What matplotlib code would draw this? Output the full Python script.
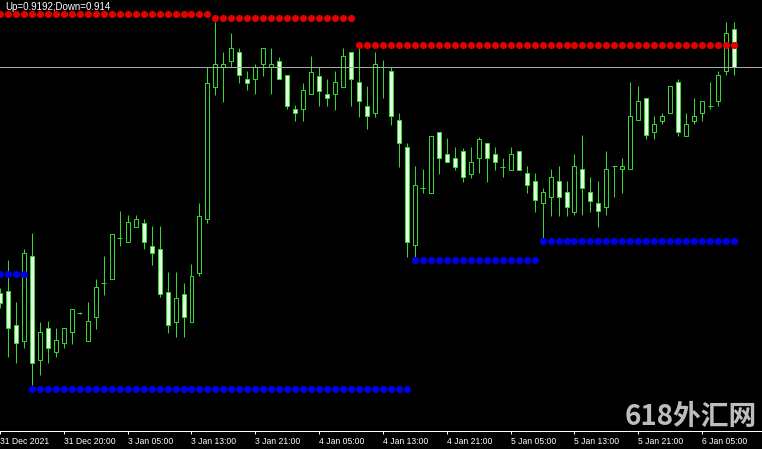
import matplotlib
matplotlib.use("Agg")
import matplotlib.pyplot as plt
from matplotlib.patches import Rectangle
import numpy as np

# ---- data (USDCHF H1, bar index -1 .. 91) ----
opens = [0.91262, 0.91267, 0.91177, 0.91134, 0.91360, 0.91084, 0.91169, 0.91105, 0.91129, 0.91158,
         0.91209, 0.91134, 0.91198, 0.91288, 0.91299, 0.91407, 0.91397, 0.91436, 0.91447, 0.91386,
         0.91378, 0.91264, 0.91185, 0.91259, 0.91185, 0.91315, 0.91458, 0.91807, 0.91860, 0.91876,
         0.91900, 0.91829, 0.91829, 0.91868, 0.91860, 0.91876, 0.91839, 0.91749, 0.91749, 0.91789,
         0.91837, 0.91789, 0.91789, 0.91807, 0.91900, 0.91821, 0.91757, 0.91739, 0.91860, 0.91850,
         0.91720, 0.91648, 0.91389, 0.91540, 0.91527, 0.91688, 0.91630, 0.91619, 0.91638, 0.91577,
         0.91619, 0.91659, 0.91630, 0.91595, 0.91588, 0.91638, 0.91580, 0.91558, 0.91500, 0.91516,
         0.91558, 0.91529, 0.91476, 0.91590, 0.91529, 0.91500, 0.91489, 0.91598, 0.91590, 0.91590,
         0.91720, 0.91778, 0.91688, 0.91717, 0.91739, 0.91821, 0.91678, 0.91717, 0.91739, 0.91757,
         0.91770, 0.91850, 0.91961]
highs = [0.91275, 0.91349, 0.91238, 0.91378, 0.91421, 0.91185, 0.91187, 0.91169, 0.91169, 0.91219,
         0.91211, 0.91238, 0.91299, 0.91360, 0.91418, 0.91479, 0.91468, 0.91468, 0.91458, 0.91439,
         0.91439, 0.91317, 0.91317, 0.91288, 0.91338, 0.91500, 0.91860, 0.91980, 0.91900, 0.91950,
         0.91911, 0.91850, 0.91868, 0.91911, 0.91911, 0.91887, 0.91839, 0.91760, 0.91818, 0.91890,
         0.91860, 0.91829, 0.91850, 0.91911, 0.91900, 0.91911, 0.91810, 0.91900, 0.91879, 0.91860,
         0.91739, 0.91659, 0.91598, 0.91590, 0.91678, 0.91688, 0.91672, 0.91648, 0.91646, 0.91648,
         0.91675, 0.91659, 0.91648, 0.91619, 0.91648, 0.91638, 0.91598, 0.91580, 0.91540, 0.91590,
         0.91598, 0.91558, 0.91630, 0.91680, 0.91569, 0.91558, 0.91638, 0.91598, 0.91619, 0.91821,
         0.91810, 0.91778, 0.91731, 0.91739, 0.91810, 0.91829, 0.91739, 0.91778, 0.91770, 0.91821,
         0.91850, 0.91980, 0.91980]
lows = [0.91222, 0.91092, 0.91076, 0.91116, 0.91018, 0.91044, 0.91076, 0.91092, 0.91116, 0.91126,
        0.91206, 0.91134, 0.91166, 0.91256, 0.91299, 0.91386, 0.91397, 0.91436, 0.91378, 0.91336,
        0.91251, 0.91156, 0.91145, 0.91145, 0.91185, 0.91307, 0.91447, 0.91786, 0.91768, 0.91860,
        0.91818, 0.91800, 0.91789, 0.91837, 0.91789, 0.91829, 0.91749, 0.91717, 0.91717, 0.91789,
        0.91757, 0.91757, 0.91747, 0.91807, 0.91757, 0.91728, 0.91696, 0.91728, 0.91778, 0.91707,
        0.91595, 0.91357, 0.91357, 0.91527, 0.91527, 0.91577, 0.91609, 0.91588, 0.91556, 0.91566,
        0.91580, 0.91556, 0.91588, 0.91569, 0.91588, 0.91588, 0.91527, 0.91476, 0.91407, 0.91466,
        0.91466, 0.91466, 0.91468, 0.91468, 0.91476, 0.91436, 0.91468, 0.91516, 0.91527, 0.91590,
        0.91720, 0.91670, 0.91670, 0.91709, 0.91739, 0.91678, 0.91678, 0.91709, 0.91717, 0.91749,
        0.91757, 0.91839, 0.91839]
closes = [0.91235, 0.91169, 0.91129, 0.91368, 0.91076, 0.91158, 0.91116, 0.91137, 0.91169, 0.91219,
          0.91209, 0.91187, 0.91277, 0.91288, 0.91418, 0.91407, 0.91450, 0.91458, 0.91397, 0.91368,
          0.91259, 0.91177, 0.91248, 0.91198, 0.91307, 0.91466, 0.91818, 0.91868, 0.91868, 0.91911,
          0.91839, 0.91818, 0.91860, 0.91911, 0.91868, 0.91829, 0.91757, 0.91739, 0.91800, 0.91847,
          0.91797, 0.91778, 0.91821, 0.91890, 0.91829, 0.91770, 0.91731, 0.91868, 0.91860, 0.91731,
          0.91659, 0.91397, 0.91548, 0.91540, 0.91678, 0.91619, 0.91609, 0.91595, 0.91569, 0.91609,
          0.91670, 0.91619, 0.91609, 0.91595, 0.91630, 0.91588, 0.91548, 0.91508, 0.91529, 0.91569,
          0.91516, 0.91489, 0.91598, 0.91540, 0.91505, 0.91479, 0.91590, 0.91598, 0.91598, 0.91731,
          0.91770, 0.91680, 0.91709, 0.91731, 0.91810, 0.91688, 0.91709, 0.91731, 0.91770, 0.91757,
          0.91839, 0.91950, 0.91860]
first_bar = -1

# resistance (red) and support (blue) dotted levels: start bar, end bar, price
red_start = [-1, 26, 44]
red_end = [25, 43, 91]
red_level = [0.92001, 0.91991, 0.91920]
blue_start = [-1, 3, 51, 67]
blue_end = [2, 50, 66, 91]
blue_level = [0.91313, 0.91007, 0.91349, 0.91399]

bid_price = 0.91860
info_text = "Up=0.9192;Down=0.914"

tick_bars = [-1, 7, 15, 23, 31, 39, 47, 55, 63, 71, 79, 87]
tick_labels = ["31 Dec 2021", "31 Dec 20:00", "3 Jan 05:00", "3 Jan 13:00", "3 Jan 21:00",
               "4 Jan 05:00", "4 Jan 13:00", "4 Jan 21:00", "5 Jan 05:00", "5 Jan 13:00",
               "5 Jan 21:00", "6 Jan 05:00"]
watermark = "618外汇网"

# ---- figure ----
W, H = 762, 449
fig = plt.figure(figsize=(W / 100, H / 100), dpi=100, facecolor="black")
ax = fig.add_axes([0, 18 / H, 1, 431 / H], facecolor="black")

px = 0.72  # one pixel in points
green = "#33d633"
bear_fill = "#e6ffe0"

n = len(opens)
xs = np.arange(first_bar, first_bar + n)
o = np.array(opens); h = np.array(highs); l = np.array(lows); c = np.array(closes)

ax.vlines(xs, l, h, color=green, linewidth=px, zorder=2)
bw = 0.5
for x, oo, cc in zip(xs, o, c):
    bear = cc < oo
    lo_, hi_ = min(oo, cc), max(oo, cc)
    if hi_ - lo_ < 1e-9:
        ax.hlines(oo, x - bw / 2 - 0.06, x + bw / 2 + 0.06, color=green, linewidth=px, zorder=3)
    else:
        ax.add_patch(Rectangle((x - bw / 2, lo_), bw, hi_ - lo_,
                               facecolor=bear_fill if bear else "black",
                               edgecolor=green, linewidth=px, zorder=3))

ax.axhline(bid_price, color="#a9a9a9", linewidth=px, zorder=4)

for s, e, lv in zip(red_start, red_end, red_level):
    bars = np.arange(s, e + 1)
    ax.plot(bars, np.full(len(bars), lv), "o", color="#e00000", markersize=5.2,
            markeredgewidth=0, zorder=5)
for s, e, lv in zip(blue_start, blue_end, blue_level):
    bars = np.arange(s, e + 1)
    ax.plot(bars, np.full(len(bars), lv), "o", color="#0000e6", markersize=5.2,
            markeredgewidth=0, zorder=5)

ax.set_xlim(-0.75, 94.5)
ax.set_ylim(0.908960, 0.920380)

for side in ["top", "left", "right"]:
    ax.spines[side].set_visible(False)
ax.spines["bottom"].set_color("white")
ax.spines["bottom"].set_linewidth(px)
ax.set_yticks([])
ax.set_xticks(tick_bars)
ax.set_xticklabels(tick_labels, fontsize=6.2, color="white", family="Liberation Sans")
ax.tick_params(axis="x", colors="white", length=2.5, width=px, pad=1.5, direction="out")
for lbl in ax.get_xticklabels():
    lbl.set_horizontalalignment("left")

fig.text(5 / W, 1 - 7.5 / H, info_text, color="white", fontsize=7, family="Liberation Sans",
         ha="left", va="center")

fig.text(757 / W, 1 - 417 / H, watermark, color="#e0e0e0", alpha=0.85, fontsize=20,
         fontweight="bold", family=["Noto Sans CJK SC", "DejaVu Sans"], ha="right", va="center",
         zorder=10)

fig.savefig("out.png", dpi=100, facecolor="black")
